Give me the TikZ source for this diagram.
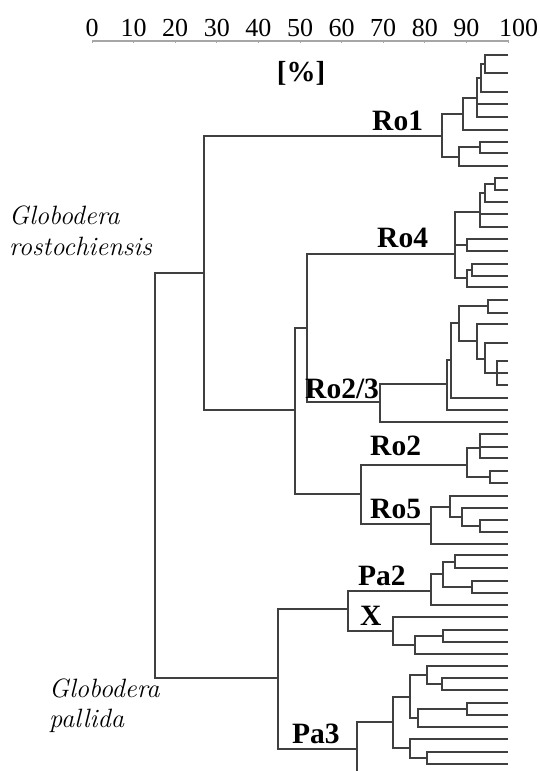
\documentclass[tikz,border=0pt]{standalone}
\usepackage{fontspec}
\setmainfont{Liberation Serif}
\newfontfamily\lmfont{Latin Modern Roman}
\newcommand{\E}{507}
\tikzset{
  branch/.style={black!75,line width=1.6pt,line cap=rect},
  clu/.style={anchor=base west,inner sep=0pt,font=\fontsize{29.5}{32}\selectfont\bfseries},
  spec/.style={anchor=base west,inner sep=0pt,font=\lmfont\fontsize{26.5}{30}\selectfont\itshape},
  num/.style={anchor=base,inner sep=0pt,font=\fontsize{26}{30}\selectfont}
}
% bracket: x, top y, bottom y, end of top child, end of bottom child
\newcommand{\clade}[5]{\draw[branch] (#4,#2) -- (#1,#2) -- (#1,#3) -- (#5,#3);}
\newcommand{\leaf}[2]{\draw[branch] (#1,#2) -- (\E,#2);}
\begin{document}
\begin{tikzpicture}[x=1pt,y=-1pt]
\useasboundingbox (0,0) rectangle (539,771);
% scale
\draw[gray!70,line width=1.2pt] (92,41) -- (508,41);
\foreach \p in {0,10,...,90} {
  \draw[gray!70,line width=1pt] ({92+4.16*\p},39.5) -- ({92+4.16*\p},42.5);
  \node[num] (s\p) at ({92+4.16*\p},36) {\p};
}
\draw[gray!70,line width=1pt] (508,39.5) -- (508,42.5);
\node[num,anchor=base west] (s100) at (499,36) {100};
\node[num,font=\fontsize{29}{32}\selectfont\bfseries] (pct) at (301,81) {[\%]};

% Ro1
\clade{485}{55}{73}{\E}{\E}
\clade{481}{64}{92}{485}{\E}
\clade{477}{78}{117}{481}{\E}
\leaf{477}{104}
\clade{463}{98}{130}{477}{\E}
\clade{480}{142}{153}{\E}{\E}
\clade{459}{147}{166}{480}{\E}
\clade{442}{114}{157}{463}{459}
% Ro4
\clade{495}{178}{190}{\E}{\E}
\clade{485}{184}{202}{495}{\E}
\clade{480}{193}{227}{485}{\E}
\leaf{480}{214}
\clade{467}{239}{251}{\E}{\E}
\clade{472}{264}{276}{\E}{\E}
\clade{467}{270}{287}{472}{\E}
\clade{455}{212}{278}{480}{467}
\draw[branch] (455,245) -- (467,245);
% Ro2/3
\clade{488}{300}{313}{\E}{\E}
\clade{497}{361}{385}{\E}{\E}
\leaf{497}{373}
\clade{485}{343}{373}{\E}{497}
\clade{477}{324}{359}{\E}{485}
\clade{459}{306}{341}{488}{477}
\clade{451}{323}{398}{459}{\E}
\clade{447}{360}{410}{451}{\E}
\clade{380}{384}{422}{447}{\E}
\clade{307}{254}{402}{455}{380}
% Ro2
\clade{480}{434}{458}{\E}{\E}
\leaf{480}{447}
\clade{490}{471}{483}{\E}{\E}
\clade{467}{448}{477}{480}{490}
% Ro5
\clade{480}{520}{532}{\E}{\E}
\clade{462}{508}{526}{\E}{480}
\clade{450}{496}{517}{\E}{462}
\clade{431}{507}{544}{450}{\E}
\clade{361}{465}{524}{467}{431}
\clade{295}{328}{494}{307}{361}
\clade{204}{136}{410}{442}{295}
% Pa2
\clade{455}{555}{568}{\E}{\E}
\clade{472}{581}{593}{\E}{\E}
\clade{443}{562}{587}{455}{472}
\clade{431}{574}{605}{443}{\E}
% X
\clade{443}{630}{642}{\E}{\E}
\clade{415}{636}{654}{443}{\E}
\clade{393}{617}{645}{\E}{415}
\clade{348}{591}{631}{431}{393}
% Pa3
\clade{442}{678}{690}{\E}{\E}
\clade{427}{666}{684}{\E}{442}
\clade{467}{703}{715}{\E}{\E}
\clade{418}{709}{727}{467}{\E}
\clade{410}{675}{718}{427}{418}
\clade{427}{752}{764}{\E}{\E}
\clade{410}{739}{758}{\E}{427}
\clade{393}{697}{748}{410}{410}
\draw[branch] (393,722) -- (357,722) -- (357,775);
\clade{278}{609}{749}{348}{357}
\clade{155}{273}{678}{204}{278}

% labels
\node[clu] (ro1) at (372,130) {Ro1};
\node[clu] (ro4) at (377,247) {Ro4};
\node[clu] (ro23) at (305,398) {Ro2/3};
\node[clu] (ro2) at (370,455) {Ro2};
\node[clu] (ro5) at (370,518) {Ro5};
\node[clu] (pa2) at (358,585) {Pa2};
\node[clu] (xx) at (360,625) {X};
\node[clu] (pa3) at (292,743) {Pa3};
\node[spec] (gr1) at (9,224) {Globodera};
\node[spec] (gr2) at (9,255) {rostochiensis};
\node[spec] (gp1) at (49,697) {Globodera};
\node[spec] (gp2) at (49,727) {pallida};
\end{tikzpicture}
\end{document}
